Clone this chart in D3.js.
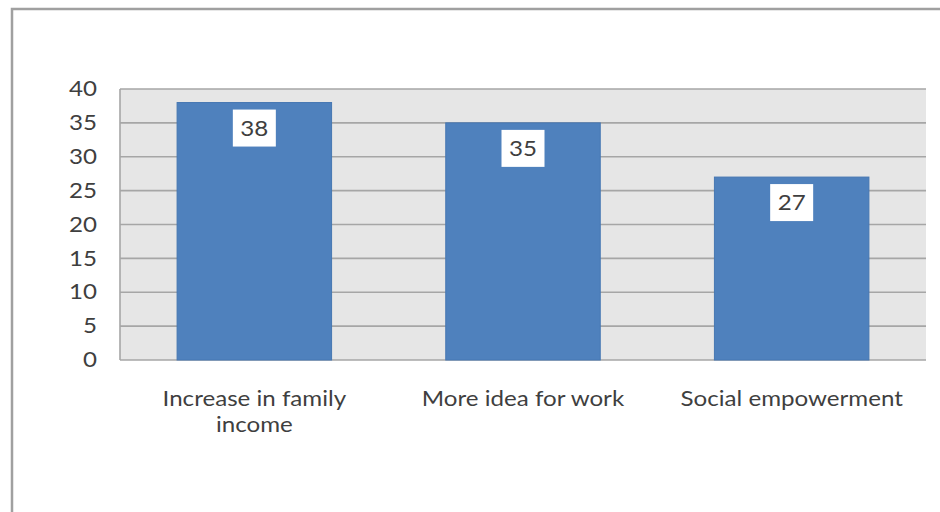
<!DOCTYPE html>
<html>
<head>
<meta charset="utf-8">
<script src="https://cdn.jsdelivr.net/npm/d3@7"></script>
<style>
  html, body { margin: 0; padding: 0; background: #ffffff; }
  svg { display: block; font-family: Lato, "Open Sans", sans-serif; }
</style>
</head>
<body>
<svg id="chart" width="940" height="512"></svg>
<script>
// Survey results: perceived benefits
const categories = ["Increase in family income", "More idea for work", "Social empowerment"];
const values = [38, 35, 27];
const yTicks = [0, 5, 10, 15, 20, 25, 30, 35, 40];

const svg = d3.select("#chart");
const W = 940, H = 512;
const plot = { left: 120, top: 89, right: 926, bottom: 360 };
const textColor = "#3f3f3f";
const fontSize = 21;
const stretch = 1.15; // glyphs are drawn slightly wide

// outer frame of the chart
svg.append("rect")
  .attr("x", 12).attr("y", 9)
  .attr("width", W + 20).attr("height", H + 20)
  .attr("fill", "#ffffff")
  .attr("stroke", "#a0a0a0")
  .attr("stroke-width", 2.5);

const x = d3.scaleBand()
  .domain(categories)
  .range([plot.left, plot.right])
  .paddingInner(0.425)
  .paddingOuter(0.2125);

const y = d3.scaleLinear()
  .domain([0, 40])
  .range([plot.bottom, plot.top]);

// plot area background
svg.append("rect")
  .attr("x", plot.left).attr("y", plot.top)
  .attr("width", plot.right - plot.left)
  .attr("height", plot.bottom - plot.top)
  .attr("fill", "#e6e6e6");

// horizontal gridlines
svg.append("g")
  .selectAll("line")
  .data(yTicks)
  .join("line")
  .attr("x1", plot.left).attr("x2", plot.right)
  .attr("y1", d => y(d)).attr("y2", d => y(d))
  .attr("stroke", "#a6a6a6")
  .attr("stroke-width", 1.6);

// left axis line
svg.append("line")
  .attr("x1", plot.left).attr("x2", plot.left)
  .attr("y1", plot.top).attr("y2", plot.bottom)
  .attr("stroke", "#a6a6a6")
  .attr("stroke-width", 1.6);

// y axis labels
const yAxis = svg.append("g")
  .attr("transform", `translate(${plot.left},0)`)
  .call(d3.axisLeft(y).tickValues(yTicks).tickSize(0).tickPadding(0));
yAxis.select(".domain").remove();
yAxis.selectAll(".tick text")
  .attr("x", null)
  .attr("transform", `translate(-23,0) scale(${stretch},1)`)
  .attr("fill", textColor)
  .attr("font-size", fontSize)
  .attr("font-family", "Lato, 'Open Sans', sans-serif");

// bars
svg.append("g")
  .selectAll("rect")
  .data(values)
  .join("rect")
  .attr("x", (d, i) => x(categories[i]))
  .attr("y", d => y(d))
  .attr("width", x.bandwidth())
  .attr("height", d => y(0) - y(d))
  .attr("fill", "#4f81bd")
  .attr("stroke", "#4677b2")
  .attr("stroke-width", 1);

// value labels in white boxes
const lab = svg.append("g")
  .selectAll("g")
  .data(values)
  .join("g")
  .attr("transform", (d, i) => `translate(${x(categories[i]) + x.bandwidth() / 2},${y(d) + 7})`);
lab.append("rect")
  .attr("x", -21.5).attr("y", 0)
  .attr("width", 43).attr("height", 37)
  .attr("fill", "#ffffff");
lab.append("text")
  .attr("transform", `translate(0,26) scale(${stretch},1)`)
  .attr("text-anchor", "middle")
  .attr("fill", textColor)
  .attr("font-size", fontSize)
  .text(d => d);

// category labels, wrapped to the band width
const xl = svg.append("g")
  .selectAll("text")
  .data(categories)
  .join("text")
  .attr("text-anchor", "middle")
  .attr("fill", textColor)
  .attr("font-size", fontSize)
  .attr("transform", d => `translate(${x(d) + x.bandwidth() / 2},406) scale(${stretch},1)`);

xl.each(function(d) {
  const t = d3.select(this);
  const words = d.split(" ");
  const maxW = 198;
  let line = [];
  let tspan = t.append("tspan").attr("x", 0).attr("dy", 0);
  words.forEach(w => {
    line.push(w);
    tspan.text(line.join(" "));
    if (tspan.node().getComputedTextLength() > maxW && line.length > 1) {
      line.pop();
      tspan.text(line.join(" "));
      line = [w];
      tspan = t.append("tspan").attr("x", 0).attr("dy", 26).text(w);
    }
  });
});
</script>
</body>
</html>
